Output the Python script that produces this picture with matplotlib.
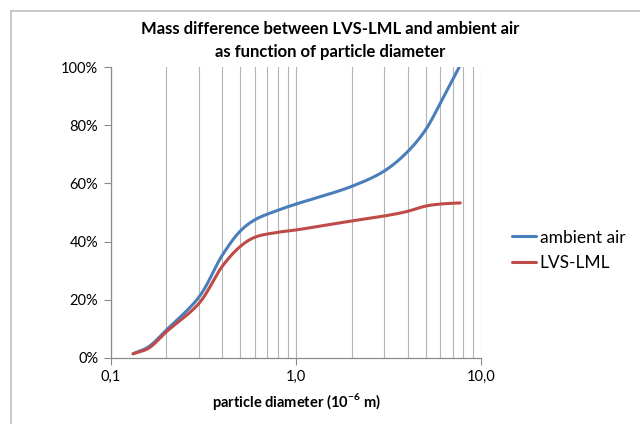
import numpy as np
import matplotlib.pyplot as plt
from matplotlib.lines import Line2D
from matplotlib.ticker import FixedLocator, FuncFormatter, NullFormatter

plt.rcParams['font.family'] = ['Lato', 'DejaVu Sans']

# data
diam_ambient = [0.132, 0.16, 0.2, 0.3, 0.4, 0.5, 0.6, 0.8, 1.0, 2.0, 3.0, 4.0, 5.0, 6.0, 7.6]
pct_ambient = [1.4, 3.8, 9.6, 21.0, 35.3, 43.6, 47.5, 50.8, 52.9, 59.0, 64.3, 70.9, 78.4, 87.5, 100.0]

diam_lvs = [0.132, 0.16, 0.2, 0.3, 0.4, 0.5, 0.6, 0.8, 1.0, 2.0, 3.0, 4.0, 5.0, 6.0, 7.7]
pct_lvs = [1.4, 3.3, 9.0, 18.8, 31.5, 38.3, 41.5, 43.2, 44.0, 47.1, 48.8, 50.4, 52.2, 52.9, 53.3]

x_major = [0.1, 1.0, 10.0]
y_ticks = [0, 20, 40, 60, 80, 100]


def smooth(x, y, n=40, alpha=0.5):
    # centripetal Catmull-Rom through the points in screen-like units (log x)
    P = np.column_stack([np.log10(x) * 185.0, np.asarray(y, float) * 2.91])
    P = np.vstack([2 * P[0] - P[1], P, 2 * P[-1] - P[-2]])
    out = []
    for i in range(1, len(P) - 2):
        p0, p1, p2, p3 = P[i - 1], P[i], P[i + 1], P[i + 2]
        t0 = 0.0
        t1 = t0 + np.linalg.norm(p1 - p0) ** alpha
        t2 = t1 + np.linalg.norm(p2 - p1) ** alpha
        t3 = t2 + np.linalg.norm(p3 - p2) ** alpha
        t = np.linspace(t1, t2, n)[:, None]
        a1 = (t1 - t) / (t1 - t0) * p0 + (t - t0) / (t1 - t0) * p1
        a2 = (t2 - t) / (t2 - t1) * p1 + (t - t1) / (t2 - t1) * p2
        a3 = (t3 - t) / (t3 - t2) * p2 + (t - t2) / (t3 - t2) * p3
        b1 = (t2 - t) / (t2 - t0) * a1 + (t - t0) / (t2 - t0) * a2
        b2 = (t3 - t) / (t3 - t1) * a2 + (t - t1) / (t3 - t1) * a3
        c = (t2 - t) / (t2 - t1) * b1 + (t - t1) / (t2 - t1) * b2
        out.append(c if i == 1 else c[1:])
    out = np.vstack(out)
    return 10**(out[:, 0] / 185.0), out[:, 1] / 2.91


fig = plt.figure(figsize=(6.4, 4.25), dpi=100)
ax = fig.add_axes([0.173, 0.158, 0.579, 0.684])

xa, ya = smooth(diam_ambient, pct_ambient)
xl, yl = smooth(diam_lvs, pct_lvs)
ax.plot(xa, ya, color='#4a7ebb', lw=2.2, label='ambient air', solid_capstyle='round')
ax.plot(xl, yl, color='#be4b48', lw=2.2, label='LVS-LML', solid_capstyle='round')

ax.set_xscale('log')
ax.set_xlim(0.1, 10)
ax.set_ylim(0, 100)

ax.xaxis.set_major_locator(FixedLocator(x_major))
ax.xaxis.set_major_formatter(FuncFormatter(lambda v, p: f'{v:.1f}'.replace('.', ',')))
minor = [k * 10.0**e for e in (-1, 0) for k in range(2, 10)]
ax.xaxis.set_minor_locator(FixedLocator(minor))
ax.xaxis.set_minor_formatter(NullFormatter())
ax.set_yticks(y_ticks)
ax.yaxis.set_major_formatter(FuncFormatter(lambda v, p: f'{v:.0f}%'))

ax.grid(True, axis='x', which='both', color='#b3b3b3', lw=0.8)
ax.set_axisbelow(True)
for s in ('top', 'right'):
    ax.spines[s].set_visible(False)
for s in ('left', 'bottom'):
    ax.spines[s].set_color('#8c8c8c')
    ax.spines[s].set_linewidth(0.9)
ax.tick_params(axis='both', which='major', length=5, color='#8c8c8c', labelsize=10.5, pad=4)
ax.tick_params(axis='x', which='minor', length=0)

ax.set_title('Mass difference between LVS-LML and ambient air\nas function of particle diameter',
             fontsize=12, fontweight='bold', x=0.592, pad=7, linespacing=1.6)
ax.set_xlabel('particle diameter (10$^{\\mathregular{-6}}$ m)', fontsize=10.5, fontweight='bold', labelpad=5)

ax.legend(loc='center left', bbox_to_anchor=(1.04, 0.37), frameon=False, fontsize=12.5,
          handlelength=1.4, handletextpad=0.2, labelspacing=0.55)

fig.add_artist(Line2D([11 / 640, 11 / 640], [1 - 11 / 425, 1 - 423 / 425], color='#c0c0c0', lw=1.2))
fig.add_artist(Line2D([11 / 640, 1], [1 - 11 / 425, 1 - 11 / 425], color='#c0c0c0', lw=1.2))

fig.savefig('out.png', dpi=100)
